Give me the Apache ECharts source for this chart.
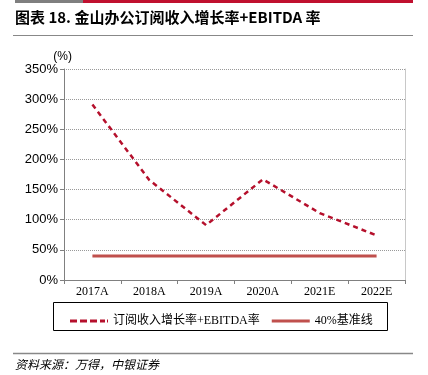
<!DOCTYPE html>
<html><head><meta charset="utf-8">
<script src="https://cdn.jsdelivr.net/npm/echarts@6/dist/echarts.min.js"></script>
<style>html,body{margin:0;padding:0;background:#fff;}#c{width:428px;height:375px;}</style>
</head><body><div id="c"></div>
<script>
const categories = ['2017A','2018A','2019A','2020A','2021E','2022E'];
const growthEbitda = [291, 166, 91, 167, 111, 74];
const baseline = [40, 40, 40, 40, 40, 40];
const yTicks = [0, 50, 100, 150, 200, 250, 300, 350];
const seriesNames = ['订阅收入增长率+EBITDA率', '40%基准线'];

const dashIcon = 'path://M0,0h7v3h-7z M10,0h7v3h-7z M20,0h7v3h-7z M30,0h5v3h-5z M37,0h1v3h-1z';
const solidIcon = 'path://M0,0h38v3h-38z';

const chart = echarts.init(document.getElementById('c'));
chart.setOption({
  animation: false,
  graphic: [
    {type:'rect', shape:{x:15,y:0,width:68,height:3}, style:{fill:'#7f7f7f'}},
    {type:'rect', shape:{x:83,y:0,width:330,height:3}, style:{fill:'#c0102f'}},
    {type:'text', left:15, top:10, style:{text:'图表 18. 金山办公订阅收入增长率+EBITDA 率', font:'bold 15px "Noto Sans CJK SC", sans-serif', fill:'#000'}},
    {type:'line', shape:{x1:13,y1:35.5,x2:413,y2:35.5}, style:{stroke:'#888',lineWidth:1}},
    {type:'rect', shape:{x:53.5,y:302.5,width:334,height:28}, style:{fill:'none',stroke:'#000',lineWidth:1}},
    {type:'line', shape:{x1:13,y1:353.5,x2:413,y2:353.5}, style:{stroke:'#888',lineWidth:1.5}},
    {type:'text', left:15, top:358, style:{text:'资料来源：万得，中银证券', font:'italic 12px "Noto Sans CJK SC", serif', fill:'#000'}}
  ],
  grid: {left:64, right:23, top:69, bottom:95},
  legend: {
    top:308, left:65, itemGap:12, itemWidth:38, itemHeight:3,
    textStyle:{fontFamily:'"Liberation Serif","Noto Sans CJK SC",serif', fontSize:12, color:'#000', lineHeight:16},
    data: [
      {name:seriesNames[0], icon:dashIcon, itemStyle:{color:'#b5102c'}},
      {name:seriesNames[1], icon:solidIcon, itemStyle:{color:'#c0504d'}}
    ]
  },
  xAxis: {
    type:'category', data:categories, boundaryGap:true,
    axisLine:{lineStyle:{color:'#808080'}},
    axisTick:{show:true, length:4, lineStyle:{color:'#808080'}},
    axisLabel:{color:'#000', fontFamily:'"Liberation Serif",serif', fontSize:12, margin:6}
  },
  yAxis: [{
    type:'value', min:0, max:350, interval:50,
    name:'(%)', nameLocation:'end', nameGap:6,
    nameTextStyle:{color:'#000', fontFamily:'"Liberation Sans",Arial,sans-serif', fontSize:12, align:'right', padding:[0,-8,0,0]},
    axisLine:{show:true, lineStyle:{color:'#808080'}},
    axisTick:{show:true, length:4, lineStyle:{color:'#808080'}},
    axisLabel:{color:'#000', fontFamily:'"Liberation Sans",Arial,sans-serif', fontSize:13, margin:6, formatter:v=>v+'%'},
    splitLine:{show:true, lineStyle:{color:'#999', type:[1,1], width:1}}
  },{
    type:'value', min:0, max:350, interval:50, position:'right',
    axisLine:{show:true, lineStyle:{color:'#c8c8c8'}},
    axisTick:{show:false}, axisLabel:{show:false}, splitLine:{show:false}
  }],
  series: [
    {name:seriesNames[0], type:'line', data:growthEbitda, symbol:'none',
     lineStyle:{color:'#b5102c', width:2.5, type:[5,4]}, itemStyle:{color:'#b5102c'}},
    {name:seriesNames[1], type:'line', data:baseline, symbol:'none',
     lineStyle:{color:'#c0504d', width:3}, itemStyle:{color:'#c0504d'}}
  ]
});
</script></body></html>
